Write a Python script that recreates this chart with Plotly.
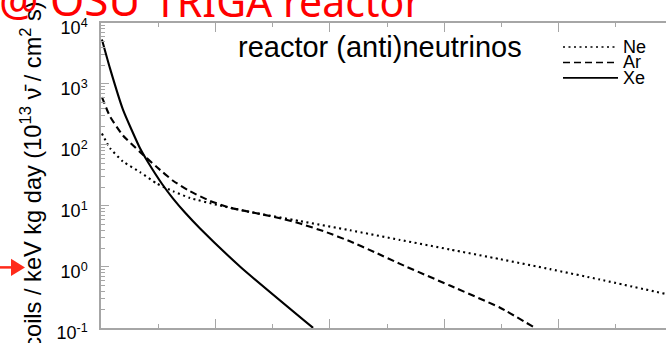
import plotly.graph_objects as go

# Recoil energy (keV) and differential rate for each target
ne_energy = [0.004, 0.039, 0.096, 0.170, 0.245, 0.315, 0.389, 0.507, 0.651, 0.870,
             1.088, 1.307, 1.525, 1.744, 1.962, 2.181, 2.469]
ne_rate = [153.5, 89.1, 53.6, 35.9, 23.2, 17.4, 13.5, 10.4, 7.96, 5.64,
           3.99, 2.77, 1.93, 1.34, 0.92, 0.62, 0.36]

ar_energy = [0.004, 0.039, 0.096, 0.170, 0.245, 0.315, 0.389, 0.476, 0.564, 0.695,
             0.782, 0.870, 0.979, 1.088, 1.198, 1.307, 1.525, 1.744, 1.897]
ar_rate = [610, 295, 143, 76.9, 43.0, 25.9, 17.4, 12.1, 9.37, 7.39,
           6.28, 5.14, 3.78, 2.63, 1.73, 1.12, 0.494, 0.214, 0.10]

xe_energy = [0.004, 0.039, 0.096, 0.170, 0.205, 0.267, 0.315, 0.367, 0.433, 0.612, 0.927]
xe_rate = [5370, 1820, 380, 89, 52.5, 22.9, 13.2, 7.8, 4.27, 0.98, 0.10]

series_names = ["Ne", "Ar", "Xe"]
series_dash = ["2px,3.5px", "7px,4px", "solid"]

y_tickvals = [0.1, 1, 10, 100, 1000, 10000]
y_ticktext = ["10<sup>-1</sup>", "10<sup>0</sup>", "10<sup>1</sup>", "10<sup>2</sup>",
              "10<sup>3</sup>", "10<sup>4</sup>"]

W, H = 666, 343
ML, MR, MT, MB = 101, 0, 23, 3
PW, PH = W - ML - MR, H - MT - MB


def px(x):
    return (x - ML) / PW


def py(y):
    return (H - MB - y) / PH


fig = go.Figure()
for name, e, r, d in zip(series_names, [ne_energy, ar_energy, xe_energy],
                         [ne_rate, ar_rate, xe_rate], series_dash):
    fig.add_trace(go.Scatter(
        x=e, y=r, mode="lines", name=name, showlegend=False,
        line=dict(color="black", width=2.1, dash=d, shape="spline", smoothing=0.5),
    ))

axis_col = "#a6a6a6"
fig.update_xaxes(
    range=[0, PW / 228.8], showline=True, linecolor=axis_col, linewidth=1.5,
    mirror="allticks", ticks="inside", ticklen=9, tickcolor=axis_col, tickwidth=1.2,
    dtick=0.5, tick0=0, showticklabels=False, showgrid=False, zeroline=False,
    minor=dict(ticks="inside", ticklen=4, dtick=0.25, tickcolor=axis_col, showgrid=False),
)
fig.update_yaxes(
    type="log", range=[-1.002, 4.0], showline=True, linecolor=axis_col, linewidth=1.5,
    ticks="inside", ticklen=8, tickcolor=axis_col, tickwidth=1.2,
    tickvals=y_tickvals, ticktext=y_ticktext, showgrid=False, zeroline=False,
    tickfont=dict(family="Liberation Sans, Arial", size=18, color="black"),
    ticklabelstandoff=8, ticklabeloverflow="allow", ticklabelshift=5,
    minor=dict(ticks="inside", ticklen=4, dtick="D1", tickcolor=axis_col, showgrid=False),
)

annotations = [
    dict(text="reactor (anti)neutrinos", x=px(236), y=py(48), xref="paper", yref="paper",
         xanchor="left", yanchor="middle", showarrow=False,
         font=dict(family="Liberation Sans, Arial", size=29, color="black")),
    dict(text="Recoils / keV kg day (10<sup>13</sup> ν\u0304 / cm<sup>2</sup> s)",
         x=px(31), y=py(-2), xref="paper", yref="paper", textangle=-90,
         xanchor="center", yanchor="top", showarrow=False,
         font=dict(family="Liberation Sans, Arial", size=23.6, color="black")),
    dict(text="@ OSU", x=px(-3), y=py(31), xref="paper", yref="paper",
         xanchor="left", yanchor="bottom", showarrow=False,
         font=dict(family="Noto Sans, DejaVu Sans", size=44, color="#ff0000")),
    dict(text="TRIGA reactor", x=px(152), y=py(31), xref="paper", yref="paper",
         xanchor="left", yanchor="bottom", showarrow=False,
         font=dict(family="Noto Sans, DejaVu Sans", size=41, color="#ff0000")),
]

shapes = []
legend_y = [48, 64, 80]
for name, d, ly in zip(series_names, series_dash, legend_y):
    shapes.append(dict(type="line", xref="paper", yref="paper", x0=px(563), x1=px(618),
                       y0=py(ly), y1=py(ly), line=dict(color="black", width=1.6, dash=d)))
    annotations.append(dict(text=name, x=px(621), y=py(ly), xref="paper", yref="paper",
                            xanchor="left", yanchor="middle", showarrow=False,
                            font=dict(family="Liberation Sans, Arial", size=18, color="black")))

# red pointer on the left edge
shapes.append(dict(type="line", xref="paper", yref="paper", x0=px(0), x1=px(13),
                   y0=py(277), y1=py(277), line=dict(color="#ff2a1a", width=2.5)))
shapes.append(dict(type="path", xref="paper", yref="paper",
                   path=f"M {px(11)} {py(268)} L {px(25)} {py(277)} L {px(11)} {py(286)} Z",
                   fillcolor="#ff2a1a", line=dict(width=0)))

fig.update_layout(
    width=W, height=H, margin=dict(l=ML, r=MR, t=MT, b=MB),
    paper_bgcolor="white", plot_bgcolor="white",
    annotations=annotations, shapes=shapes, showlegend=False,
)

fig.write_html("out.html")
